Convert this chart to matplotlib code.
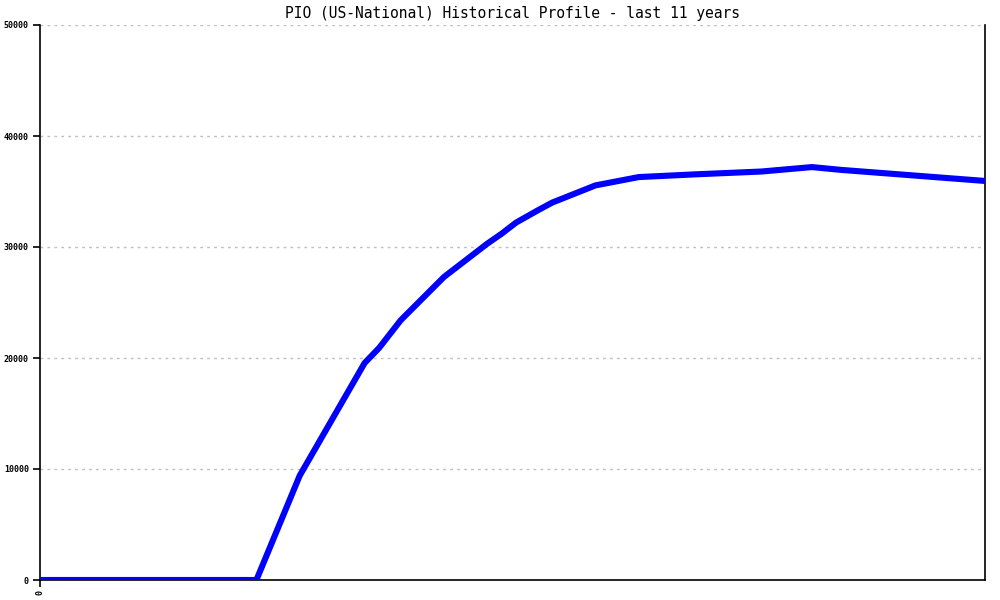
#!/usr/bin/env python3
"""PIO (US-National) historical profile - redrawn with matplotlib."""

import matplotlib
matplotlib.use("Agg")
import matplotlib.pyplot as plt

# months since start of the 11 year window, and the value read at each
months = [0, 30, 36, 45, 47, 50, 56, 59, 62, 64, 66, 69, 71, 77, 83, 91, 100, 107, 111, 131]
values = [0, 0, 9400, 19550, 20900, 23400, 27300, 28800, 30300,
          31200, 32200, 33300, 34000, 35550, 36300, 36550, 36800, 37200, 36950, 35950]

y_ticks = [0, 10000, 20000, 30000, 40000, 50000]
x_ticks = [0]
title = "PIO (US-National) Historical Profile - last 11 years"


def graph(x, y, title="Graph"):
    """Draw the profile and save it"""
    fig = plt.figure(figsize=(10, 6), dpi=100)
    ax = fig.add_axes([0.04, 1 - 580 / 600, 0.945, 555 / 600])

    ax.plot(x, y, color="#0000ff", linewidth=4.4, solid_capstyle="butt",
            solid_joinstyle="round", zorder=3)

    ax.set_xlim(0, 131)
    ax.set_ylim(0, 50000)
    ax.set_yticks(y_ticks)
    ax.set_yticklabels([str(v) for v in y_ticks], family="DejaVu Sans Mono",
                       fontsize=6, fontweight="bold")
    ax.set_xticks(x_ticks)
    ax.set_xticklabels([str(v) for v in x_ticks], family="DejaVu Sans Mono",
                       fontsize=6, fontweight="bold", rotation=90)

    ax.grid(axis="y", color="#c0c0c0", linestyle=(0, (2, 3)), linewidth=1)
    ax.set_axisbelow(True)
    ax.spines["top"].set_visible(False)
    for side in ("left", "bottom", "right"):
        ax.spines[side].set_linewidth(1.2)
    ax.tick_params(axis="y", direction="out", length=5, width=1.2, pad=3)
    ax.tick_params(axis="x", direction="out", length=5, width=1.2, pad=2)

    ax.set_title(title, family="DejaVu Sans Mono", fontsize=10.5, pad=5)
    fig.savefig("out.png", dpi=100)


if __name__ == "__main__":
    graph(months, values, title=title)
